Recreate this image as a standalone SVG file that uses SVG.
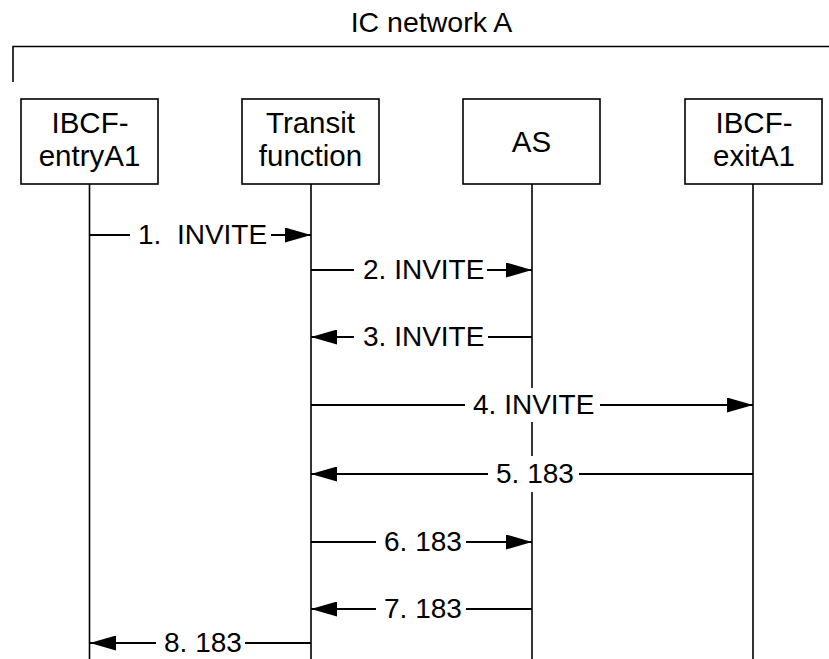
<svg xmlns="http://www.w3.org/2000/svg" width="829" height="659" viewBox="0 0 829 659">
<style>
  text { font-family: "Liberation Sans", Arial, sans-serif; font-size: 28px; fill: #000; }
  .n { font-size: 29.5px; text-anchor: middle; }
  .c { text-anchor: middle; }
  .box { fill: #fff; stroke: #000; stroke-width: 1.6; }
  .life { stroke: #000; stroke-width: 1.6; fill: none; }
  .msg { stroke: #000; stroke-width: 1.8; fill: none; marker-end: url(#arr); }
  .bg { fill: #fff; stroke: none; }
</style>
<defs>
  <marker id="arr" markerUnits="userSpaceOnUse" markerWidth="26" markerHeight="15" refX="26" refY="7.5" orient="auto">
    <path d="M0,0 L26,7.5 L0,15 z" fill="#000"/>
  </marker>
</defs>
<rect width="829" height="659" fill="#fff"/>
<g id="network">
  <path d="M13,82 V46.5 H829" fill="none" stroke="#000" stroke-width="1.6"/>
  <text x="431.5" y="32" class="c" style="font-size:28.5px">IC network A</text>
</g>
<g id="ibcf-entry">
  <line class="life" x1="89.5" y1="184" x2="89.5" y2="659"/>
  <rect class="box" x="21" y="99" width="137" height="85"/>
  <text x="90" y="133" class="n">IBCF-</text>
  <text x="89.5" y="166" class="n">entryA1</text>
</g>
<g id="transit">
  <line class="life" x1="311" y1="184" x2="311" y2="659"/>
  <rect class="box" x="242" y="99" width="137" height="85"/>
  <text x="310.5" y="133" class="n">Transit</text>
  <text x="310.5" y="166" class="n">function</text>
</g>
<g id="as">
  <line class="life" x1="532" y1="184" x2="532" y2="659"/>
  <rect class="box" x="463" y="99" width="137" height="85"/>
  <text x="531.5" y="152" class="n">AS</text>
</g>
<g id="ibcf-exit">
  <line class="life" x1="753" y1="184" x2="753" y2="659"/>
  <rect class="box" x="685" y="99" width="137" height="85"/>
  <text x="754" y="133" class="n">IBCF-</text>
  <text x="754" y="166" class="n">exitA1</text>
</g>
<g id="connectors">
  <line class="msg" x1="90" y1="235" x2="311" y2="235"/>
  <rect class="bg" x="130" y="218" width="141" height="34"/>
  <text x="138" y="244" xml:space="preserve">1.  INVITE</text>

  <line class="msg" x1="311" y1="270" x2="532" y2="270"/>
  <rect class="bg" x="354" y="253" width="133" height="34"/>
  <text x="363" y="279">2. INVITE</text>

  <line class="msg" x1="532" y1="337" x2="311" y2="337"/>
  <rect class="bg" x="354" y="320" width="134" height="34"/>
  <text x="363" y="346">3. INVITE</text>

  <line class="msg" x1="311" y1="405" x2="753" y2="405"/>
  <rect class="bg" x="465" y="388" width="135" height="34"/>
  <text x="473" y="414">4. INVITE</text>

  <line class="msg" x1="753" y1="474" x2="311" y2="474"/>
  <rect class="bg" x="488" y="456" width="91" height="36"/>
  <text x="496" y="483">5. 183</text>

  <line class="msg" x1="311" y1="542" x2="532" y2="542"/>
  <rect class="bg" x="376" y="525" width="90" height="34"/>
  <text x="384" y="551">6. 183</text>

  <line class="msg" x1="532" y1="609" x2="311" y2="609"/>
  <rect class="bg" x="376" y="592" width="90" height="34"/>
  <text x="384" y="618">7. 183</text>

  <line class="msg" x1="311" y1="643" x2="90" y2="643"/>
  <rect class="bg" x="156" y="626" width="89" height="33"/>
  <text x="164" y="652">8. 183</text>
</g>
</svg>
